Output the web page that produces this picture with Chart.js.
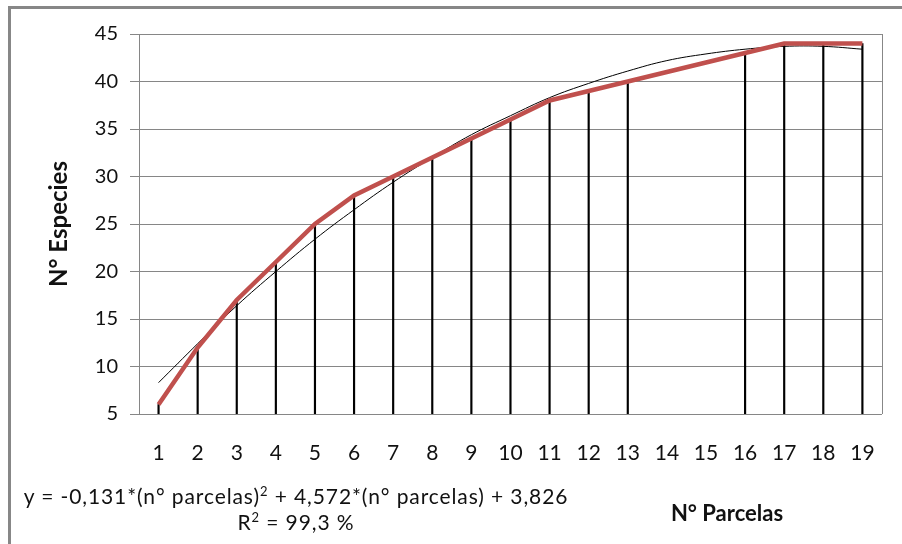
<!DOCTYPE html>
<html>
<head>
<meta charset="utf-8">
<script src="https://cdn.jsdelivr.net/npm/chart.js@4"></script>
<style>
  html, body { margin: 0; padding: 0; background: #fff; }
  #caja { position: relative; width: 902px; height: 544px; overflow: hidden; }
  #marco { position: absolute; left: 8px; top: 6px; width: 900px; height: 540px;
           border-left: 3px solid #878787; border-top: 3px solid #878787; }
  #grafica { position: absolute; left: 0; top: 0; }
  .txt { position: absolute; font-family: Lato, sans-serif; color: #111; white-space: nowrap; line-height: 26px; }
  sup { font-size: 13px; line-height: 0; }
  #ecuacion { left: 296px; top: 483px; font-size: 21px; letter-spacing: 0.9px; transform: translateX(-50%); }
  #r2 { left: 296px; top: 509px; font-size: 21px; letter-spacing: 0.9px; transform: translateX(-50%); }
  #tituloX { left: 727px; top: 500px; font-size: 22px; font-weight: bold; transform: translateX(-50%); }
</style>
</head>
<body>
<div id="caja">
  <div id="marco"></div>
  <canvas id="grafica" width="902" height="544"></canvas>
  <div class="txt" id="ecuacion">y = -0,131*(n° parcelas)<sup>2</sup> + 4,572*(n° parcelas) + 3,826</div>
  <div class="txt" id="r2">R<sup>2</sup> = 99,3 %</div>
  <div class="txt" id="tituloX">N° Parcelas</div>
</div>
<script>
const parcelas = ['1', '2', '3', '4', '5', '6', '7', '8', '9', '10', '11', '12', '13', '14', '15', '16', '17', '18', '19'];
const especies = [6, 12, 17, 21, 25, 28, 30, 32, 34, 36, 38, 39, 40, null, null, 43, 44, 44, 44];
const tendencia = [8.3, 12.4, 16.4, 20.0, 23.4, 26.5, 29.4, 32.0, 34.4, 36.4, 38.3, 39.8, 41.1, 42.2, 42.9, 43.4, 43.7, 43.7, 43.4];
const ticksY = [5, 10, 15, 20, 25, 30, 35, 40, 45];

const fuente = 'Lato, sans-serif';

// borde gris a la derecha del area del grafico
const bordeDerecho = {
    id: 'bordeDerecho',
    afterDraw(c) {
        const a = c.chartArea, ctx = c.ctx;
        ctx.save();
        ctx.strokeStyle = '#878787';
        ctx.lineWidth = 1;
        ctx.beginPath();
        ctx.moveTo(Math.round(a.right) + 0.5, a.top);
        ctx.lineTo(Math.round(a.right) + 0.5, a.bottom);
        ctx.stroke();
        ctx.restore();
    }
};

const ctx = document.getElementById('grafica').getContext('2d');
new Chart(ctx, {
    type: 'bar',
    data: {
        labels: parcelas,
        datasets: [
            {
                type: 'line',
                label: 'N° Especies',
                data: especies,
                borderColor: '#c0504d',
                borderWidth: 4.5,
                pointRadius: 0,
                spanGaps: true,
                tension: 0,
                order: 0
            },
            {
                type: 'line',
                label: 'Tendencia',
                data: tendencia,
                borderColor: '#000',
                borderWidth: 1,
                pointRadius: 0,
                tension: 0.4,
                order: 1
            },
            {
                type: 'bar',
                label: 'Parcelas',
                data: especies,
                backgroundColor: '#000',
                barThickness: 1.5,
                order: 2
            }
        ]
    },
    options: {
        responsive: false,
        animation: false,
        layout: { padding: { left: 0, right: 16, top: 34, bottom: 0 } },
        plugins: {
            legend: { display: false },
            tooltip: { enabled: false }
        },
        scales: {
            x: {
                offset: true,
                grid: { display: false, drawTicks: false },
                border: { display: false },
                ticks: {
                    color: '#111',
                    font: { family: fuente, size: 21 },
                    padding: 27,
                    maxRotation: 0,
                    autoSkip: false
                },
                afterFit: s => { s.height = 130; }
            },
            y: {
                min: 5,
                max: 45,
                afterBuildTicks: s => { s.ticks = ticksY.map(v => ({ value: v })); },
                grid: { color: '#868686', tickLength: 9 },
                border: { color: '#868686' },
                ticks: {
                    color: '#111',
                    font: { family: fuente, size: 20 },
                    padding: 12
                },
                title: {
                    display: true,
                    text: 'N° Especies',
                    color: '#111',
                    font: { family: fuente, size: 24, weight: 'bold' },
                    padding: { top: 45, bottom: 0 }
                },
                afterFit: s => { s.width = 139; }
            }
        }
    },
    plugins: [bordeDerecho]
});
</script>
</body>
</html>
